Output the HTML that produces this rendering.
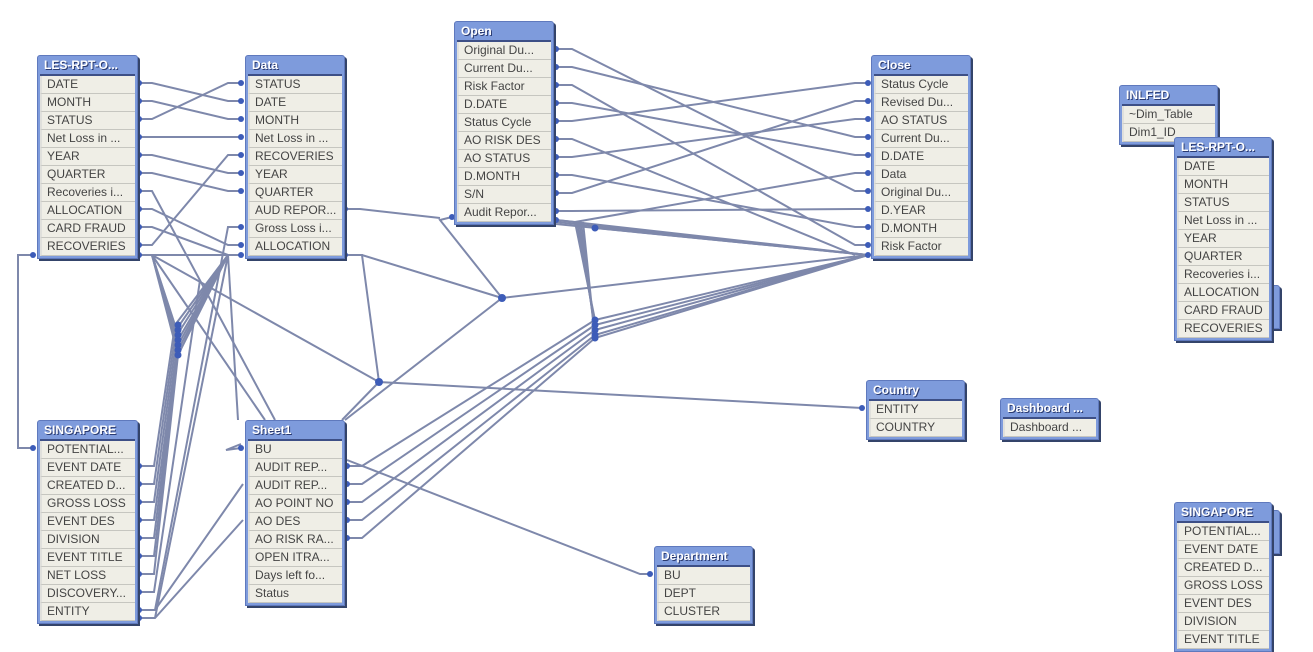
<!DOCTYPE html><html><head><style>
body{margin:0;width:1313px;height:643px;background:#fff;position:relative;overflow:hidden;font-family:"Liberation Sans",sans-serif}
.t{position:absolute;background:#7e9bdc;border:1px solid #5f79bd;border-radius:3px 3px 0 0;box-shadow:2px 2px 0 #34446a;padding:0 2px 2px 2px}
.h{height:18px;line-height:18px;color:#fff;font-weight:bold;font-size:12px;padding-left:4px;text-shadow:1px 1px 0 #2a3a70;border-bottom:2px solid #3d4f86;white-space:nowrap;overflow:hidden}
.r{height:17px;line-height:17px;background:#efeee6;border-bottom:1px solid #c6c6c0;font-size:12px;color:#444;padding-left:5px;white-space:nowrap;overflow:hidden;border-left:2px solid #e0e0dc}
svg{position:absolute;left:0;top:0}
</style></head><body>
<svg width="1313" height="643">
<g fill="none" stroke="#7e88ab" stroke-width="2">
<!-- LES->Data -->
<polyline points="139,83 152,83 228,101 241,101"/>
<polyline points="139,101 152,101 228,119 241,119"/>
<polyline points="139,119 152,119 228,83 241,83"/>
<polyline points="139,137 241,137"/>
<polyline points="139,155 152,155 228,173 241,173"/>
<polyline points="139,173 152,173 228,191 241,191"/>
<polyline points="139,191 152,191 275,420"/>
<polyline points="139,209 152,209 228,245 241,245"/>
<polyline points="139,227 152,227 228,255"/>
<polyline points="139,245 152,245 228,155 241,155"/>
<polyline points="241,227 228,227 155,610"/>
<polyline points="139,255 241,255"/>
<polyline points="33,255 18,255 18,448 33,448"/>
<polyline points="152,255 265,420"/>
<polyline points="152,255 379,382"/>
<polyline points="228,255 238,420"/>
<polyline points="228,255 155,618"/>
<polyline points="152,255 175,325"/><polyline points="152,255 176,330"/><polyline points="152,255 177,335"/><polyline points="152,255 178,340"/><polyline points="152,255 178,345"/><polyline points="152,255 178,350"/><polyline points="152,255 178,355"/>
<polyline points="228,255 175,325"/><polyline points="228,255 176,330"/><polyline points="228,255 177,335"/><polyline points="228,255 178,340"/><polyline points="228,255 178,345"/><polyline points="228,255 178,350"/><polyline points="228,255 178,355"/>
<polyline points="139,466 154,466 175,325"/>
<polyline points="139,484 154,484 176,330"/>
<polyline points="139,502 154,502 177,335"/>
<polyline points="139,520 154,520 178,340"/>
<polyline points="139,538 154,538 178,345"/>
<polyline points="139,556 154,556 178,350"/>
<polyline points="139,574 154,574 178,355"/>
<polyline points="139,592 154,592 200,280"/>
<polyline points="139,610 155,610 243,484"/>
<polyline points="139,618 155,618 243,520"/>
<polyline points="241,448 226,450 241,444"/>
<!-- Data right -->
<polyline points="345,209 360,209 440,218"/>
<polyline points="345,255 362,255 379,382"/>
<polyline points="345,255 362,255 502,298"/>
<polyline points="379,382 862,408"/>
<polyline points="379,382 342,420"/>
<polyline points="502,298 868,255"/>
<polyline points="502,298 440,220 452,217"/>
<polyline points="502,298 345,420"/>
<!-- Open->Close -->
<polyline points="556,49 572,49 855,191 868,191"/>
<polyline points="556,67 572,67 855,137 868,137"/>
<polyline points="556,85 572,85 855,245 868,245"/>
<polyline points="556,103 572,103 855,155 868,155"/>
<polyline points="556,121 572,121 855,83 868,83"/>
<polyline points="556,139 572,139 855,255"/>
<polyline points="556,157 572,157 855,119 868,119"/>
<polyline points="556,175 572,175 855,227 868,227"/>
<polyline points="556,193 572,193 855,101 868,101"/>
<polyline points="556,211 572,211 855,209 868,209"/>
<polyline points="556,220 575,222 855,173 868,173"/>
<polyline points="556,220 868,255"/><polyline points="556,222 868,255"/><polyline points="556,224 868,255"/><polyline points="595,228 868,255"/>
<polyline points="575,222 595,320"/><polyline points="577,222 595,325"/><polyline points="579,222 595,330"/><polyline points="581,222 595,335"/><polyline points="583,222 595,338"/>
<polyline points="868,255 595,320"/><polyline points="868,255 595,325"/><polyline points="868,255 595,330"/><polyline points="868,255 595,335"/><polyline points="868,255 595,338"/>
<!-- Sheet1 right -->
<polyline points="347,466 362,466 595,320"/>
<polyline points="347,484 362,484 595,325"/>
<polyline points="347,502 362,502 595,330"/>
<polyline points="347,520 362,520 595,335"/>
<polyline points="347,538 362,538 595,338"/>
<polyline points="347,460 640,574 650,574"/>
</g>
<g fill="#3d5cb8">
<circle cx="139" cy="83" r="3"/><circle cx="139" cy="101" r="3"/><circle cx="139" cy="119" r="3"/><circle cx="139" cy="137" r="3"/><circle cx="139" cy="155" r="3"/><circle cx="139" cy="173" r="3"/><circle cx="139" cy="191" r="3"/><circle cx="139" cy="209" r="3"/><circle cx="139" cy="227" r="3"/><circle cx="139" cy="245" r="3"/><circle cx="139" cy="255" r="3"/><circle cx="33" cy="255" r="3"/>
<circle cx="241" cy="83" r="3"/><circle cx="241" cy="101" r="3"/><circle cx="241" cy="119" r="3"/><circle cx="241" cy="137" r="3"/><circle cx="241" cy="155" r="3"/><circle cx="241" cy="173" r="3"/><circle cx="241" cy="191" r="3"/><circle cx="241" cy="227" r="3"/><circle cx="241" cy="245" r="3"/><circle cx="241" cy="255" r="3"/>
<circle cx="345" cy="209" r="3"/><circle cx="345" cy="255" r="3"/>
<circle cx="33" cy="448" r="3"/>
<circle cx="139" cy="466" r="3"/><circle cx="139" cy="484" r="3"/><circle cx="139" cy="502" r="3"/><circle cx="139" cy="520" r="3"/><circle cx="139" cy="538" r="3"/><circle cx="139" cy="556" r="3"/><circle cx="139" cy="574" r="3"/><circle cx="139" cy="592" r="3"/><circle cx="139" cy="610" r="3"/><circle cx="139" cy="618" r="3"/>
<circle cx="178" cy="325" r="3.5"/><circle cx="178" cy="330" r="3.5"/><circle cx="178" cy="335" r="3.5"/><circle cx="178" cy="340" r="3.5"/><circle cx="178" cy="345" r="3.5"/><circle cx="178" cy="350" r="3.5"/><circle cx="178" cy="355" r="3.5"/>
<circle cx="595" cy="320" r="3.5"/><circle cx="595" cy="325" r="3.5"/><circle cx="595" cy="330" r="3.5"/><circle cx="595" cy="335" r="3.5"/><circle cx="595" cy="338" r="3.5"/><circle cx="595" cy="228" r="3.5"/>
<circle cx="502" cy="298" r="4"/><circle cx="379" cy="382" r="4"/>
<circle cx="241" cy="448" r="3"/><circle cx="347" cy="466" r="3"/><circle cx="347" cy="484" r="3"/><circle cx="347" cy="502" r="3"/><circle cx="347" cy="520" r="3"/><circle cx="347" cy="538" r="3"/>
<circle cx="452" cy="217" r="3"/>
<circle cx="556" cy="49" r="3"/><circle cx="556" cy="67" r="3"/><circle cx="556" cy="85" r="3"/><circle cx="556" cy="103" r="3"/><circle cx="556" cy="121" r="3"/><circle cx="556" cy="139" r="3"/><circle cx="556" cy="157" r="3"/><circle cx="556" cy="175" r="3"/><circle cx="556" cy="193" r="3"/><circle cx="556" cy="211" r="3"/><circle cx="556" cy="220" r="3"/>
<circle cx="868" cy="83" r="3"/><circle cx="868" cy="101" r="3"/><circle cx="868" cy="119" r="3"/><circle cx="868" cy="137" r="3"/><circle cx="868" cy="155" r="3"/><circle cx="868" cy="173" r="3"/><circle cx="868" cy="191" r="3"/><circle cx="868" cy="209" r="3"/><circle cx="868" cy="227" r="3"/><circle cx="868" cy="245" r="3"/><circle cx="868" cy="255" r="3"/>
<circle cx="862" cy="408" r="3"/><circle cx="650" cy="574" r="3"/>
</g>
</svg>
<div class="t" style="left:1174px;top:285px;width:100px;height:40px"></div>
<div class="t" style="left:1174px;top:510px;width:100px;height:40px"></div>
<div class="t" style="left:37px;top:55px;width:95px"><div class="h">LES-RPT-O...</div><div class="r">DATE</div><div class="r">MONTH</div><div class="r">STATUS</div><div class="r">Net Loss in ...</div><div class="r">YEAR</div><div class="r">QUARTER</div><div class="r">Recoveries i...</div><div class="r">ALLOCATION</div><div class="r">CARD FRAUD</div><div class="r">RECOVERIES</div></div>
<div class="t" style="left:245px;top:55px;width:94px"><div class="h">Data</div><div class="r">STATUS</div><div class="r">DATE</div><div class="r">MONTH</div><div class="r">Net Loss in ...</div><div class="r">RECOVERIES</div><div class="r">YEAR</div><div class="r">QUARTER</div><div class="r">AUD REPOR...</div><div class="r">Gross Loss i...</div><div class="r">ALLOCATION</div></div>
<div class="t" style="left:454px;top:21px;width:94px"><div class="h">Open</div><div class="r">Original Du...</div><div class="r">Current Du...</div><div class="r">Risk Factor</div><div class="r">D.DATE</div><div class="r">Status Cycle</div><div class="r">AO RISK DES</div><div class="r">AO STATUS</div><div class="r">D.MONTH</div><div class="r">S/N</div><div class="r">Audit Repor...</div></div>
<div class="t" style="left:871px;top:55px;width:94px"><div class="h">Close</div><div class="r">Status Cycle</div><div class="r">Revised Du...</div><div class="r">AO STATUS</div><div class="r">Current Du...</div><div class="r">D.DATE</div><div class="r">Data</div><div class="r">Original Du...</div><div class="r">D.YEAR</div><div class="r">D.MONTH</div><div class="r">Risk Factor</div></div>
<div class="t" style="left:1119px;top:85px;width:93px"><div class="h">INLFED</div><div class="r">~Dim_Table</div><div class="r">Dim1_ID</div></div>
<div class="t" style="left:1174px;top:137px;width:92px"><div class="h">LES-RPT-O...</div><div class="r">DATE</div><div class="r">MONTH</div><div class="r">STATUS</div><div class="r">Net Loss in ...</div><div class="r">YEAR</div><div class="r">QUARTER</div><div class="r">Recoveries i...</div><div class="r">ALLOCATION</div><div class="r">CARD FRAUD</div><div class="r">RECOVERIES</div></div>
<div class="t" style="left:37px;top:420px;width:95px"><div class="h">SINGAPORE</div><div class="r">POTENTIAL...</div><div class="r">EVENT DATE</div><div class="r">CREATED D...</div><div class="r">GROSS LOSS</div><div class="r">EVENT DES</div><div class="r">DIVISION</div><div class="r">EVENT TITLE</div><div class="r">NET LOSS</div><div class="r">DISCOVERY...</div><div class="r">ENTITY</div></div>
<div class="t" style="left:245px;top:420px;width:94px"><div class="h">Sheet1</div><div class="r">BU</div><div class="r">AUDIT REP...</div><div class="r">AUDIT REP...</div><div class="r">AO POINT NO</div><div class="r">AO DES</div><div class="r">AO RISK RA...</div><div class="r">OPEN ITRA...</div><div class="r">Days left fo...</div><div class="r">Status</div></div>
<div class="t" style="left:866px;top:380px;width:93px"><div class="h">Country</div><div class="r">ENTITY</div><div class="r">COUNTRY</div></div>
<div class="t" style="left:1000px;top:398px;width:93px"><div class="h">Dashboard ...</div><div class="r">Dashboard ...</div></div>
<div class="t" style="left:654px;top:546px;width:93px"><div class="h">Department</div><div class="r">BU</div><div class="r">DEPT</div><div class="r">CLUSTER</div></div>
<div class="t" style="left:1174px;top:502px;width:92px"><div class="h">SINGAPORE</div><div class="r">POTENTIAL...</div><div class="r">EVENT DATE</div><div class="r">CREATED D...</div><div class="r">GROSS LOSS</div><div class="r">EVENT DES</div><div class="r">DIVISION</div><div class="r">EVENT TITLE</div></div>
</body></html>
